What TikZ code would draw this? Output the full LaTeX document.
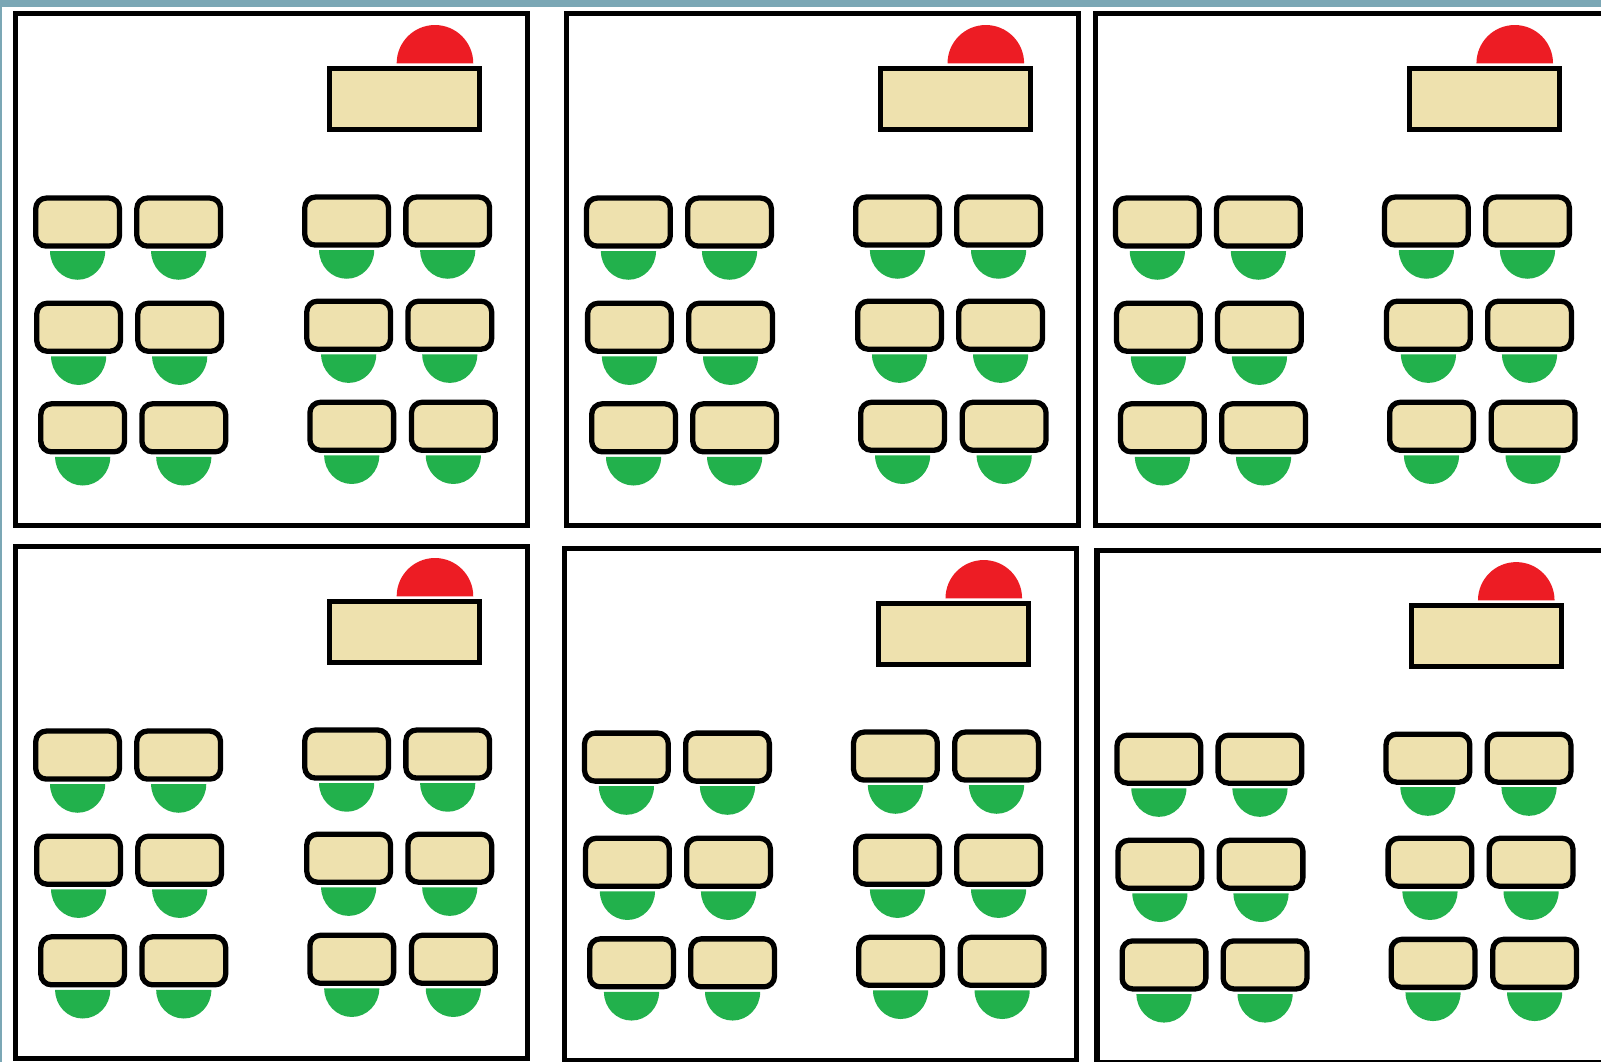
\documentclass[tikz,border=0pt]{standalone}
\definecolor{cstrip}{HTML}{7BA7B5}
\definecolor{cdesk}{HTML}{EEE1AE}
\definecolor{cteacher}{HTML}{ED1C24}
\definecolor{cpupil}{HTML}{22B14C}
\tikzset{
  frame/.style={draw=black, line width=3pt},
  teacherdesk/.style={draw=black, fill=cdesk, line width=2.8pt},
  pupildesk/.style={draw=black, fill=cdesk, line width=3pt, rounded corners=6pt},
}
\begin{document}
\begin{tikzpicture}[x=0.02042cm, y=-0.02042cm]
  \useasboundingbox (0,0) rectangle (1568,1040);
  \clip (0,0) rectangle (1568,1040);
  \fill[white] (0,0) rectangle (1568,1040);
  \fill[cstrip] (0,0) rectangle (1568,7);
  \fill[cstrip] (0,0) rectangle (2,1040);
  \foreach \px/\py in {0/0, 539.5/0, 1057.5/0, 0/522, 537.5/524, 1059/526} {
    \begin{scope}[shift={(\px,\py)}]
      \draw[frame] (15.5,13) rectangle (516.5,514.5);
      \fill[cteacher] (388.5,62) arc[start angle=180, end angle=360, x radius=37.5, y radius=37.5] -- cycle;
      \draw[teacherdesk] (323,67) rectangle (470,126.5);
      \foreach \dx/\dy in {76/217.5, 175/217.5, 339.5/216.5, 438.5/216.5,
                           77/320.5, 176/320.5, 341.5/318.5, 440.5/318.5,
                           81/419, 180/419, 344.5/417.5, 444/417.5} {
        \fill[cpupil] (\dx-27,\dy+28.5) arc[start angle=180, end angle=0, x radius=27, y radius=28] -- cycle;
        \draw[pupildesk] (\dx-41,\dy-23.5) rectangle (\dx+41,\dy+23.5);
      }
    \end{scope}
  }
\end{tikzpicture}
\end{document}
